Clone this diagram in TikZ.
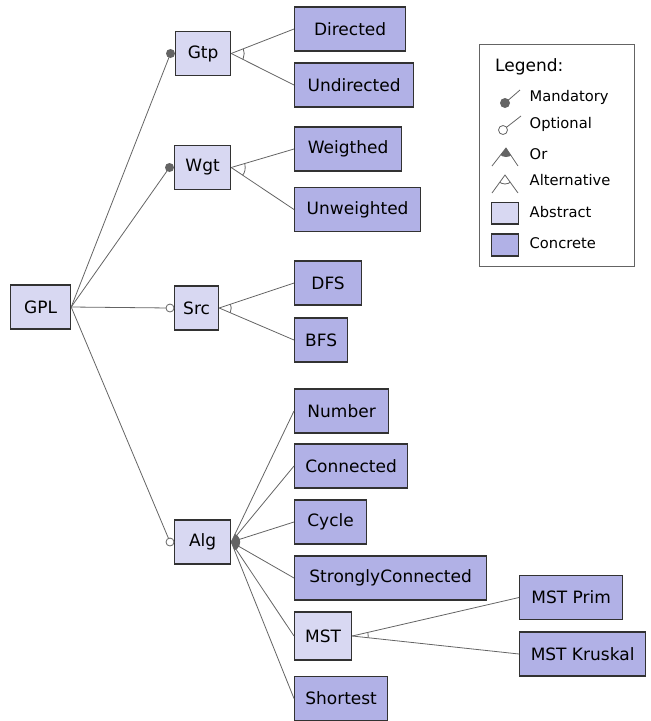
\documentclass[tikz,border=0pt]{standalone}
\usepackage{fontspec}
\setmainfont{DejaVu Sans}
\usetikzlibrary{calc}
\definecolor{absc}{RGB}{216,216,242}
\definecolor{conc}{RGB}{177,177,230}
\definecolor{lnc}{RGB}{100,100,100}
\definecolor{bdc}{RGB}{50,50,50}
\begin{document}
\begin{tikzpicture}[x=1pt,y=-1pt,
  feat/.style={draw=bdc, line width=1.2pt, anchor=west, minimum height=44pt, inner xsep=4pt, font=\fontsize{17}{20}\selectfont},
  absf/.style={feat, fill=absc},
  conf/.style={feat, fill=conc},
  edge/.style={draw=lnc, line width=0.8pt},
  mand/.style={fill=lnc},
  opt/.style={draw=lnc, line width=0.8pt, fill=white},
  legtxt/.style={anchor=west, inner sep=0pt, font=\fontsize{14.7}{17}\selectfont}]
\useasboundingbox (0,0) rectangle (651,721);
% features
\node[absf, minimum width=60pt] (GPL) at (10,307) {GPL};
\node[absf, minimum width=55pt] (Gtp) at (175,53.5) {Gtp};
\node[absf, minimum width=56pt] (Wgt) at (174,167.5) {Wgt};
\node[absf, minimum width=44pt] (Src) at (174,308) {Src};
\node[absf, minimum width=56pt] (Alg) at (174,542) {Alg};
\node[conf, minimum width=111pt] (Dir) at (294,29) {Directed};
\node[conf, minimum width=119pt] (Und) at (294,85) {Undirected};
\node[conf, minimum width=107pt] (Wei) at (294,149) {Weigthed};
\node[conf, minimum width=126pt] (Unw) at (294,209.5) {Unweighted};
\node[conf, minimum width=67pt] (DFS) at (294,283) {DFS};
\node[conf, minimum width=53pt] (BFS) at (294,340) {BFS};
\node[conf, minimum width=94pt] (Num) at (294,411) {Number};
\node[conf, minimum width=113pt] (Con) at (294,466) {Connected};
\node[conf, minimum width=72pt] (Cyc) at (294,522) {Cycle};
\node[conf, minimum width=192pt] (SCo) at (294,578) {StronglyConnected};
\node[absf, minimum width=57pt, minimum height=48pt] (MST) at (294,636) {MST};
\node[conf, minimum width=93pt] (Sho) at (294,698.5) {Shortest};
\node[conf, minimum width=103pt] (Pri) at (519,597.5) {MST Prim};
\node[conf, minimum width=126pt] (Kru) at (519,654) {MST Kruskal};
% root edges
\coordinate (gtpd) at ($(Gtp.west)+(-4.5,0)$);
\coordinate (wgtd) at ($(Wgt.west)+(-4.5,0)$);
\coordinate (srcd) at ($(Src.west)+(-4,0)$);
\coordinate (algd) at ($(Alg.west)+(-4,0)$);
\draw[edge] (GPL.east) -- (gtpd);
\draw[edge] (GPL.east) -- (wgtd);
\draw[edge] (GPL.east) -- (srcd);
\draw[edge] (GPL.east) -- (algd);
\fill[mand] (gtpd) circle (4.5);
\fill[mand] (wgtd) circle (4.5);
\draw[opt] (srcd) circle (4);
\draw[opt] (algd) circle (4);
% Gtp alternative
\draw[edge] (Gtp.east) -- (Dir.west);
\draw[edge] (Gtp.east) -- (Und.west);
\begin{scope}
\clip (Gtp.east) -- (Dir.west) -- (Und.west) -- cycle;
\draw[edge] (Gtp.east) circle (13);
\end{scope}
% Wgt alternative
\draw[edge] (Wgt.east) -- (Wei.west);
\draw[edge] (Wgt.east) -- (Unw.west);
\begin{scope}
\clip (Wgt.east) -- (Wei.west) -- (Unw.west) -- cycle;
\draw[edge] (Wgt.east) circle (14);
\end{scope}
% Src alternative
\draw[edge] (Src.east) -- (DFS.west);
\draw[edge] (Src.east) -- (BFS.west);
\begin{scope}
\clip (Src.east) -- (DFS.west) -- (BFS.west) -- cycle;
\draw[edge] (Src.east) circle (12);
\end{scope}
% Alg or
\draw[edge] (Alg.east) -- (Num.west);
\draw[edge] (Alg.east) -- (Con.west);
\draw[edge] (Alg.east) -- (Cyc.west);
\draw[edge] (Alg.east) -- (SCo.west);
\draw[edge] (Alg.east) -- (MST.west);
\draw[edge] (Alg.east) -- (Sho.west);
\begin{scope}
\clip (Alg.east) -- (Num.west) -- (Sho.west) -- cycle;
\fill[mand] (Alg.east) circle (9);
\end{scope}
% MST alternative
\draw[edge] (MST.east) -- (Pri.west);
\draw[edge] (MST.east) -- (Kru.west);
\begin{scope}
\clip (MST.east) -- (Pri.west) -- (Kru.west) -- cycle;
\draw[edge] (MST.east) circle (16);
\end{scope}
% legend
\node[draw=lnc, line width=0.8pt, minimum width=155pt, minimum height=222pt, anchor=north west, inner sep=0pt] (leg) at (479,43.5) {};
\node[legtxt, font=\fontsize{17}{20}\selectfont] (legh) at (495,67) {Legend:};
\node[legtxt] (lm) at (529.5,97) {Mandatory};
\node[legtxt] (lo) at (529.5,124.5) {Optional};
\node[legtxt] (lr) at (529.5,154.5) {Or};
\node[legtxt] (la) at (529.5,180.5) {Alternative};
\node[legtxt] (lb) at (529.5,212) {Abstract};
\node[legtxt] (lc) at (529.5,243.5) {Concrete};
\draw[edge] (505,103) -- (520,90);
\fill[mand] (505,103) circle (5);
\draw[edge] (503,130) -- (521,116);
\draw[opt] (503,130) circle (4.5);
\coordinate (ora) at (506,148);
\draw[edge] (492,166) -- (ora) -- (518,166);
\begin{scope}
\clip (ora) -- (492,166) -- (518,166) -- cycle;
\fill[mand] (ora) circle (9);
\end{scope}
\coordinate (ala) at (505,175);
\draw[edge] (492,193) -- (ala) -- (518,193);
\begin{scope}
\clip (ala) -- (492,193) -- (518,193) -- cycle;
\draw[edge] (ala) circle (9);
\end{scope}
\draw[draw=bdc, line width=1.1pt, fill=absc] (491.5,202.5) rectangle (518.5,224);
\draw[draw=bdc, line width=1.1pt, fill=conc] (491.5,234) rectangle (518.5,256);
\end{tikzpicture}
\end{document}
